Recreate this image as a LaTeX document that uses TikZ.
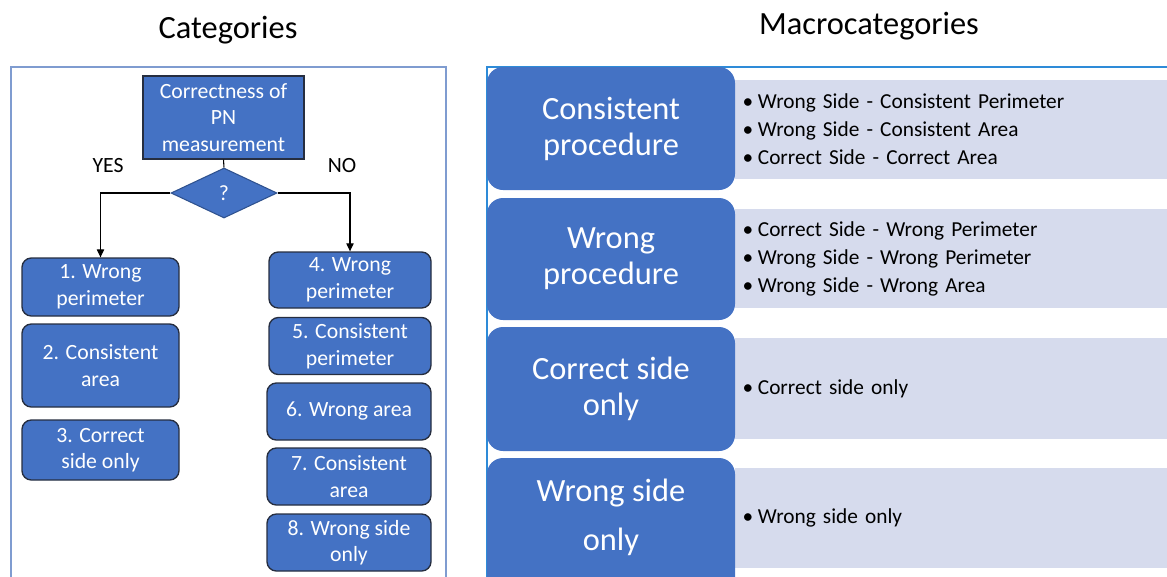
\documentclass[tikz,border=0pt]{standalone}
\usepackage{fontspec}
\setmainfont{Carlito}
\usetikzlibrary{shapes.geometric,arrows.meta}
\definecolor{blueC}{RGB}{68,114,196}
\definecolor{lightC}{RGB}{214,219,237}
\definecolor{boxB}{RGB}{38,46,64}
\definecolor{diaB}{RGB}{47,82,143}
\definecolor{leftF}{RGB}{127,156,208}
\definecolor{rightF}{RGB}{46,139,216}
\newcommand{\bul}{\textbullet\hspace{3.5pt}}
\tikzset{
  cbox/.style={draw=boxB, fill=blueC, text=white, rounded corners=7pt, line width=1pt,
    align=center, inner sep=0pt, font=\fontsize{16.3}{19.9}\selectfont},
  topbox/.style={draw=boxB, fill=blueC, text=white, line width=1pt,
    align=center, inner sep=0pt, font=\fontsize{16.3}{19.9}\selectfont},
  dia/.style={diamond, draw=diaB, fill=blueC, text=white, line width=0.8pt, inner sep=0pt,
    font=\fontsize{16.3}{19.9}\selectfont},
  lbl/.style={font=\fontsize{16.3}{19.9}\selectfont, inner sep=0pt},
  ttl/.style={font=\fontsize{24.3}{28}\selectfont, inner sep=0pt},
  conn/.style={draw=black, line width=0.8pt, -{Triangle[length=6pt,width=5.5pt]}},
  mbox/.style={fill=blueC, text=white, rounded corners=12pt, align=center, inner sep=0pt,
    minimum width=186pt, font=\fontsize{24.3}{27}\selectfont},
  mtext/.style={text=white, align=center, inner sep=0pt, font=\fontsize{24.3}{36.75}\selectfont},
  lbox/.style={fill=lightC, anchor=west, align=left, inner xsep=5.5pt, inner ysep=0pt,
    text width={432*0.75pt-11pt}, font=\fontsize{16}{21}\selectfont}
}
\begin{document}
\begin{tikzpicture}[x=0.75pt,y=-0.75pt]
\useasboundingbox (0,0) rectangle (1167,576);
\begin{scope}
\clip (0,0) rectangle (1167,576);
% frames
\draw[leftF, line width=1.1pt] (11,67) rectangle (446,610);
\draw[rightF, line width=1.1pt] (487,610) -- (487,67) -- (1180,67);
% titles
\node[ttl] (t1) at (228,30.5) {Categories};
\node[ttl] (t2) at (869,26.5) {Macrocategories};
% left flowchart
\node[topbox, minimum width={161*0.75pt}, minimum height={83*0.75pt}] (top) at (223.5,117.5) {Correctness of\\PN\\measurement};
\node[dia, minimum width={106*0.75pt}, minimum height={50*0.75pt}, aspect=2.12] (q) at (224,193) {?};
\draw[black, line width=0.8pt] (top.south) -- (q.north);
\node[lbl] (yes) at (108,166) {YES};
\node[lbl] (no) at (342,166) {NO};
\node[cbox, minimum width={157*0.75pt}, minimum height={58*0.75pt}] (b1) at (100.5,287) {1. Wrong\\perimeter};
\node[cbox, minimum width={157*0.75pt}, minimum height={83*0.75pt}] (b2) at (100.5,365.5) {2. Consistent\\area};
\node[cbox, minimum width={157*0.75pt}, minimum height={60*0.75pt}] (b3) at (100.5,450) {3. Correct\\side only};
\node[cbox, minimum width={162*0.75pt}, minimum height={56*0.75pt}] (b4) at (350,280) {4. Wrong\\perimeter};
\node[cbox, minimum width={162*0.75pt}, minimum height={57*0.75pt}] (b5) at (350,346) {5. Consistent\\perimeter};
\node[cbox, minimum width={164*0.75pt}, minimum height={57*0.75pt}] (b6) at (349,411.5) {6. Wrong area};
\node[cbox, minimum width={164*0.75pt}, minimum height={57*0.75pt}] (b7) at (349,476.5) {7. Consistent\\area};
\node[cbox, minimum width={164*0.75pt}, minimum height={57*0.75pt}] (b8) at (349,542.5) {8. Wrong side\\only};
\draw[conn] (q.west) -| (b1.north);
\draw[conn] (q.east) -| (b4.north);
% right panel
\node[lbox, minimum height={99*0.75pt}] (l1) at (735,129.5) {\bul Wrong Side - Consistent Perimeter\\\bul Wrong Side - Consistent Area\\\bul Correct Side - Correct Area};
\node[lbox, minimum height={99*0.75pt}] (l2) at (735,258.5) {\bul Correct Side - Wrong Perimeter\\\bul Wrong Side - Wrong Perimeter\\\bul Wrong Side - Wrong Area};
\node[lbox, minimum height={101*0.75pt}] (l3) at (735,388.5) {\bul Correct side only};
\node[lbox, minimum height={100*0.75pt}] (l4) at (735,518) {\bul Wrong side only};
\node[mbox, minimum height={123*0.75pt}] (m1) at (611,128.5) {Consistent\\procedure};
\node[mbox, minimum height={122*0.75pt}] (m2) at (611,259) {Wrong\\procedure};
\node[mbox, minimum height={124*0.75pt}] (m3) at (611,389) {Correct side\\only};
\fill[blueC, rounded corners=12pt] (487,458) rectangle (735,610);
\node[mtext] (m4) at (611,517.5) {Wrong side\\only};
\end{scope}
\end{tikzpicture}
\end{document}
